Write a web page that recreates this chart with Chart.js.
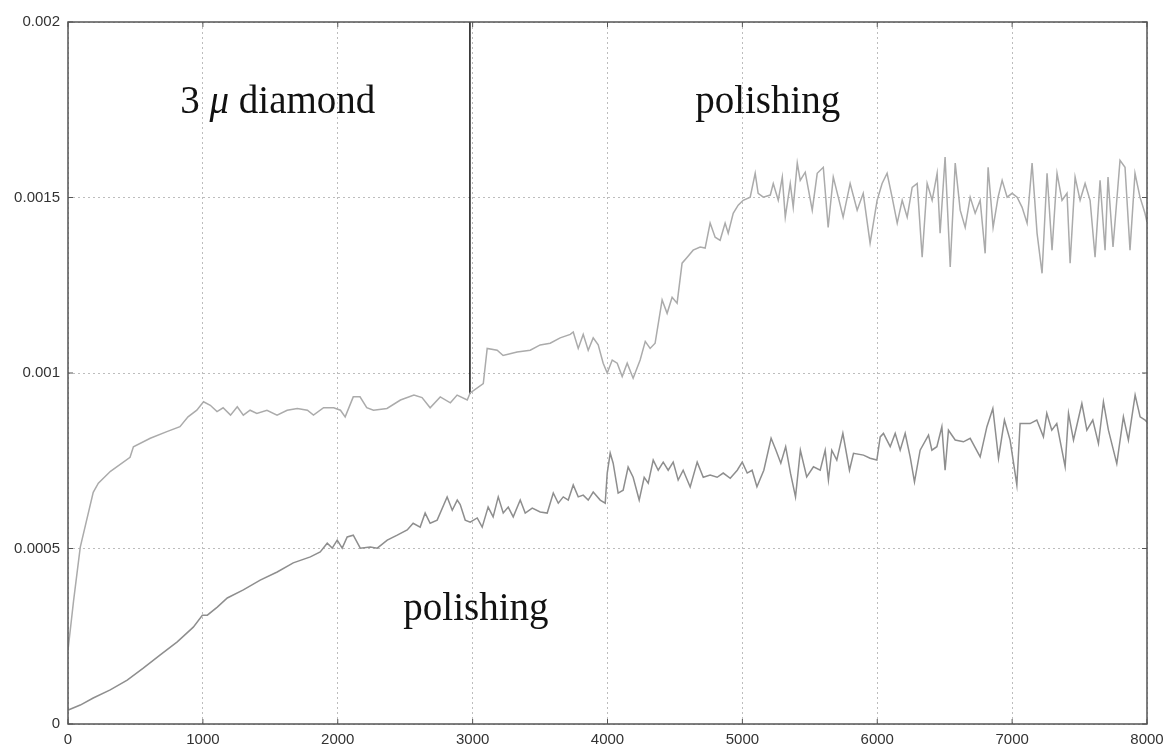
<!DOCTYPE html>
<html>
<head>
<meta charset="utf-8">
<script src="https://cdn.jsdelivr.net/npm/chart.js@4"></script>
<style>
  html, body { margin: 0; padding: 0; background: #ffffff; }
  #wrap { width: 1165px; height: 749px; }
</style>
</head>
<body>
<div id="wrap"><canvas id="c" width="1165" height="749"></canvas></div>
<script>
// Upper trace: 3 µm diamond stage followed by polishing (x, value)
const upperSeries = [
  [0, 0.00021], [41, 0.00035], [91, 0.000504], [187, 0.00066], [225, 0.000686],
  [315, 0.00072], [460, 0.00076], [485, 0.00079], [610, 0.000814], [733, 0.000833],
  [830, 0.000847], [890, 0.000875], [955, 0.000894], [1005, 0.000918], [1055, 0.000908],
  [1105, 0.00089], [1150, 0.000901], [1205, 0.00088], [1255, 0.000904], [1300, 0.00088],
  [1350, 0.000894], [1400, 0.000885], [1475, 0.000894], [1550, 0.00088], [1625, 0.000894],
  [1700, 0.000899], [1775, 0.000894], [1820, 0.00088], [1895, 0.000901], [1970, 0.000901],
  [2020, 0.000894], [2055, 0.000875], [2115, 0.000932], [2165, 0.000932], [2215, 0.000901],
  [2265, 0.000894], [2365, 0.000899], [2465, 0.000923], [2565, 0.000937], [2625, 0.00093],
  [2685, 0.000901], [2760, 0.000932], [2835, 0.000915], [2885, 0.000937], [2960, 0.000923],
  [2982, 0.000943], [3079, 0.00097], [3108, 0.00107], [3182, 0.001065], [3226, 0.00105],
  [3330, 0.00106], [3427, 0.001065], [3501, 0.00108], [3575, 0.001085], [3649, 0.0011],
  [3724, 0.00111], [3746, 0.001117], [3783, 0.00107], [3820, 0.00111], [3857, 0.001065],
  [3894, 0.0011], [3931, 0.00108], [3968, 0.001028], [3998, 0.001], [4035, 0.001037],
  [4072, 0.001028], [4109, 0.00099], [4146, 0.001028], [4190, 0.000985], [4242, 0.001037],
  [4280, 0.00109], [4316, 0.00107], [4353, 0.001085], [4405, 0.001208], [4442, 0.00117],
  [4479, 0.001216], [4516, 0.001199], [4553, 0.001313], [4591, 0.00133], [4635, 0.00135],
  [4687, 0.001359], [4724, 0.001356], [4761, 0.001427], [4798, 0.001387], [4835, 0.001378],
  [4872, 0.001427], [4895, 0.001398], [4932, 0.001455], [4969, 0.001478], [5006, 0.001492],
  [5058, 0.001501], [5095, 0.001569], [5117, 0.001512], [5155, 0.001501], [5207, 0.001507],
  [5229, 0.00154], [5266, 0.001492], [5296, 0.001558], [5318, 0.001444], [5355, 0.00154],
  [5377, 0.001472], [5407, 0.001598], [5429, 0.001549], [5466, 0.001572], [5518, 0.001464],
  [5555, 0.001569], [5600, 0.001586], [5636, 0.001415], [5674, 0.001558], [5711, 0.001501],
  [5747, 0.001444], [5799, 0.00154], [5851, 0.001464], [5896, 0.001512], [5947, 0.00137],
  [5999, 0.001492], [6036, 0.00154], [6073, 0.001569], [6110, 0.001501], [6148, 0.001427],
  [6185, 0.001492], [6222, 0.001444], [6259, 0.001529], [6296, 0.00154], [6333, 0.00133],
  [6370, 0.00154], [6407, 0.001492], [6444, 0.001569], [6466, 0.001398], [6503, 0.001615],
  [6541, 0.001302], [6578, 0.001598], [6615, 0.001464], [6652, 0.001415], [6689, 0.001501],
  [6726, 0.001455], [6763, 0.001492], [6800, 0.001341], [6822, 0.001586], [6859, 0.001415],
  [6896, 0.001501], [6926, 0.001549], [6963, 0.001501], [7000, 0.001512], [7037, 0.001501],
  [7074, 0.001472], [7111, 0.001427], [7148, 0.001598], [7185, 0.001398], [7222, 0.001284],
  [7259, 0.001569], [7296, 0.00135], [7333, 0.001569], [7370, 0.001492], [7407, 0.001512],
  [7430, 0.001313], [7467, 0.001558], [7504, 0.001492], [7541, 0.00154], [7578, 0.001492],
  [7615, 0.00133], [7652, 0.001549], [7689, 0.00135], [7711, 0.001558], [7748, 0.001359],
  [7800, 0.001606], [7837, 0.001586], [7874, 0.00135], [7911, 0.001569], [7948, 0.001501],
  [7985, 0.001455], [8000, 0.00143]
];

// Lower trace: polishing only (x, value)
const lowerSeries = [
  [2, 0.00004], [91, 0.000054], [187, 0.000074], [313, 0.000097], [439, 0.000125],
  [558, 0.000159], [684, 0.000197], [810, 0.000234], [929, 0.000276], [996, 0.00031],
  [1033, 0.00031], [1107, 0.000333], [1181, 0.000359], [1300, 0.000382], [1425, 0.00041],
  [1551, 0.000433], [1670, 0.000459], [1797, 0.000476], [1870, 0.00049], [1922, 0.000515],
  [1959, 0.000501], [1996, 0.000524], [2033, 0.000501], [2070, 0.000533], [2115, 0.000538],
  [2167, 0.000501], [2241, 0.000504], [2293, 0.000501], [2367, 0.000524], [2441, 0.000538],
  [2515, 0.000553], [2559, 0.000572], [2611, 0.000561], [2648, 0.000601], [2685, 0.000572],
  [2737, 0.000581], [2811, 0.000647], [2849, 0.000609], [2886, 0.000638], [2908, 0.000625],
  [2945, 0.000581], [2982, 0.000575], [3034, 0.000587], [3071, 0.000561], [3115, 0.000618],
  [3152, 0.00059], [3190, 0.000647], [3227, 0.000601], [3264, 0.000618], [3301, 0.00059],
  [3353, 0.000638], [3390, 0.000601], [3442, 0.000615], [3501, 0.000604], [3553, 0.000601],
  [3598, 0.000658], [3635, 0.000629], [3672, 0.000647], [3709, 0.000638], [3746, 0.000681],
  [3783, 0.000647], [3820, 0.000652], [3857, 0.000638], [3894, 0.000661], [3946, 0.000638],
  [3983, 0.000629], [3998, 0.000715], [4020, 0.000772], [4042, 0.000743], [4079, 0.000658],
  [4116, 0.000666], [4153, 0.000732], [4190, 0.000703], [4235, 0.000638], [4272, 0.000703],
  [4302, 0.000686], [4339, 0.000752], [4376, 0.000723], [4413, 0.000746], [4450, 0.000723],
  [4487, 0.000746], [4524, 0.000695], [4561, 0.000723], [4613, 0.000675], [4665, 0.000746],
  [4710, 0.000703], [4761, 0.000709], [4813, 0.000703], [4858, 0.000715], [4910, 0.0007],
  [4962, 0.000723], [4999, 0.000746], [5036, 0.000715], [5072, 0.000723], [5108, 0.000676],
  [5159, 0.000723], [5213, 0.000814], [5249, 0.00078], [5285, 0.000743], [5321, 0.00079],
  [5357, 0.000714], [5394, 0.000647], [5430, 0.00078], [5477, 0.000704], [5527, 0.000733],
  [5577, 0.000723], [5614, 0.00078], [5638, 0.000695], [5663, 0.00078], [5700, 0.000752],
  [5745, 0.000828], [5794, 0.000723], [5824, 0.000771], [5898, 0.000766], [5947, 0.000757],
  [5997, 0.000752], [6022, 0.000818], [6046, 0.000828], [6096, 0.00079], [6133, 0.000828],
  [6170, 0.00078], [6207, 0.000828], [6244, 0.000761], [6276, 0.00069], [6318, 0.00078],
  [6380, 0.000823], [6405, 0.00078], [6442, 0.00079], [6479, 0.000847], [6503, 0.000723],
  [6528, 0.000837], [6578, 0.000809], [6639, 0.000804], [6689, 0.000814], [6763, 0.000761],
  [6813, 0.000847], [6857, 0.000899], [6899, 0.000757], [6943, 0.000866], [6985, 0.000809],
  [7035, 0.000681], [7059, 0.000856], [7133, 0.000856], [7183, 0.000866], [7232, 0.000818],
  [7257, 0.000885], [7294, 0.000837], [7331, 0.000856], [7393, 0.000733], [7418, 0.000885],
  [7455, 0.000809], [7517, 0.000913], [7554, 0.000837], [7598, 0.000866], [7640, 0.000799],
  [7677, 0.000918], [7714, 0.000837], [7776, 0.000742], [7825, 0.000875], [7862, 0.000809],
  [7912, 0.000937], [7949, 0.000875], [7986, 0.000866], [8000, 0.00086]
];

// Vertical separator between the diamond stage and the polishing stage
const dividerSeries = [[2980, 0.00094], [2980, 0.002]];

// Axis tick labels
const xTickLabels = ['0', '1000', '2000', '3000', '4000', '5000', '6000', '7000', '8000'];
const yTickLabels = ['0', '0.0005', '0.001', '0.0015', '0.002'];

// Stage annotations, anchored in data coordinates (left edge, text baseline)
const notes = [
  { parts: [['3 ', 'normal'], ['\u03bc', 'italic'], [' diamond', 'normal']], x: 832, y: 0.00174 },
  { parts: [['polishing', 'normal']], x: 4650, y: 0.00174 },
  { parts: [['polishing', 'normal']], x: 2486, y: 0.000296 }
];

const toPoints = s => s.map(([x, y]) => ({ x, y }));

const TICK_FONT = { family: '"Liberation Sans", Arial, sans-serif', size: 15 };

const framePlugin = {
  id: 'frameAndNotes',
  afterDatasetsDraw(chart) {
    const { ctx, chartArea: a, scales: { x, y } } = chart;
    ctx.save();
    // box around the plot
    ctx.strokeStyle = '#555555';
    ctx.lineWidth = 1.5;
    ctx.setLineDash([]);
    ctx.strokeRect(a.left, a.top, a.right - a.left, a.bottom - a.top);
    // inward tick marks on all four sides
    ctx.lineWidth = 1;
    ctx.beginPath();
    x.ticks.forEach(t => {
      const px = x.getPixelForValue(t.value);
      ctx.moveTo(px, a.bottom); ctx.lineTo(px, a.bottom - 5);
      ctx.moveTo(px, a.top); ctx.lineTo(px, a.top + 5);
    });
    y.ticks.forEach(t => {
      const py = y.getPixelForValue(t.value);
      ctx.moveTo(a.left, py); ctx.lineTo(a.left + 5, py);
      ctx.moveTo(a.right, py); ctx.lineTo(a.right - 5, py);
    });
    ctx.stroke();
    // stage annotations
    ctx.fillStyle = '#111111';
    ctx.textBaseline = 'alphabetic';
    ctx.textAlign = 'left';
    notes.forEach(n => {
      let px = x.getPixelForValue(n.x);
      const py = y.getPixelForValue(n.y);
      n.parts.forEach(([txt, style]) => {
        ctx.font = style + ' 39px "Liberation Serif", "Times New Roman", serif';
        ctx.fillText(txt, px, py);
        px += ctx.measureText(txt).width;
      });
    });
    ctx.restore();
  }
};

new Chart(document.getElementById('c'), {
  type: 'line',
  data: {
    datasets: [
      { data: toPoints(upperSeries), borderColor: '#ababab', borderWidth: 1.5, pointRadius: 0, tension: 0 },
      { data: toPoints(lowerSeries), borderColor: '#8e8e8e', borderWidth: 1.5, pointRadius: 0, tension: 0 },
      { data: toPoints(dividerSeries), borderColor: '#111111', borderWidth: 1.5, pointRadius: 0, tension: 0 }
    ]
  },
  options: {
    responsive: false,
    animation: false,
    layout: { padding: { top: 22, right: 18, left: 0, bottom: 0 } },
    plugins: { legend: { display: false }, tooltip: { enabled: false } },
    scales: {
      x: {
        type: 'linear', min: 0, max: 8000,
        afterFit: s => { s.height = 25; s.paddingLeft = 0; s.paddingRight = 0; },
        ticks: { stepSize: 1000, autoSkip: false, maxRotation: 0, padding: 7, color: '#333333', font: TICK_FONT,
                 callback: (v, i) => xTickLabels[i] },
        grid: { color: '#bdbdbd', lineWidth: 1, drawTicks: false },
        border: { display: false, dash: [2, 3] }
      },
      y: {
        type: 'linear', min: 0, max: 0.002,
        afterFit: s => { s.width = 68; s.paddingTop = 0; s.paddingBottom = 0; },
        ticks: { stepSize: 0.0005, padding: 8, color: '#333333', font: TICK_FONT,
                 callback: (v, i) => yTickLabels[i] },
        grid: { color: '#bdbdbd', lineWidth: 1, drawTicks: false },
        border: { display: false, dash: [2, 3] }
      }
    }
  },
  plugins: [framePlugin]
});
</script>
</body>
</html>
